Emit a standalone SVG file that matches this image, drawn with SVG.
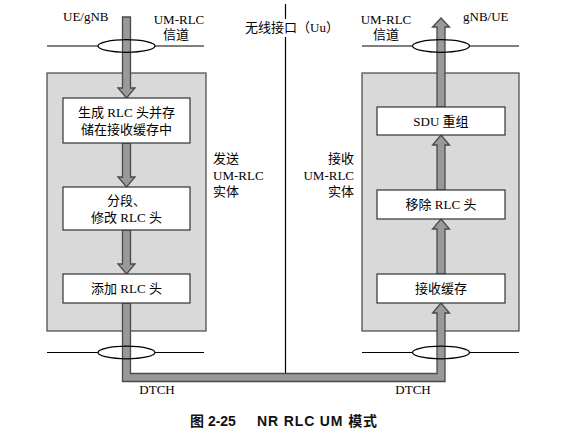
<svg xmlns="http://www.w3.org/2000/svg" width="564" height="439" viewBox="0 0 564 439">
<style>
.ent{fill:#d9d9d9;stroke:#444;stroke-width:1.2}
.box{fill:#fff;stroke:#333;stroke-width:1.2}
.pipe{fill:#999;stroke:#4a4a4a;stroke-width:1.3;stroke-linejoin:miter}
.ln{stroke:#000;stroke-width:1.2;fill:none}
.ell{fill:none;stroke:#000;stroke-width:1.2}
.t{font-family:"Liberation Serif","Noto Sans CJK SC",serif;font-size:13px;fill:#000}
.c{text-anchor:middle}
.cap{font-family:"Liberation Sans","Noto Sans CJK SC",sans-serif;font-size:14px;font-weight:bold;fill:#111}
</style>
<rect width="564" height="439" fill="#fff"/>

<g id="tx-entity">
<rect class="ent" x="47" y="73" width="159" height="258"/>
</g>
<g id="rx-entity">
<rect class="ent" x="362" y="73" width="157" height="258"/>
</g>

<g id="connectors">
<line class="ln" x1="285.5" y1="4" x2="285.5" y2="19"/>
<line class="ln" x1="285.5" y1="37" x2="285.5" y2="374"/>
<!-- left top pipe -->
<polygon class="pipe" points="122.5,17 130.5,17 130.5,88 135,88 126.5,98 118,88 122.5,88"/>
<polygon class="pipe" points="122.5,143 130.5,143 130.5,177 135,177 126.5,187 118,177 122.5,177"/>
<polygon class="pipe" points="122.5,230 130.5,230 130.5,264 135,264 126.5,274 118,264 122.5,264"/>
<!-- DTCH pipe -->
<polygon class="pipe" points="122.5,303 130.5,303 130.5,373.5 437,373.5 437,313 432.5,313 441,303 449.5,313 445,313 445,381.5 122.5,381.5"/>
<!-- right arrows -->
<polygon class="pipe" points="437,274 445,274 445,229 449.5,229 441,219 432.5,229 437,229"/>
<polygon class="pipe" points="437,190 445,190 445,145 449.5,145 441,135 432.5,145 437,145"/>
<polygon class="pipe" points="437,107 445,107 445,27 449.5,27 441,18 432.5,27 437,27"/>
<!-- channel lines -->
<line class="ln" x1="47" y1="46" x2="98" y2="46"/>
<line class="ln" x1="155" y1="46" x2="204" y2="46"/>
<ellipse class="ell" cx="126.5" cy="46" rx="28.5" ry="6.3"/>
<line class="ln" x1="362" y1="46" x2="412.5" y2="46"/>
<line class="ln" x1="469.5" y1="46" x2="519" y2="46"/>
<ellipse class="ell" cx="441" cy="46" rx="28.5" ry="6.3"/>
<line class="ln" x1="47" y1="352.5" x2="98" y2="352.5"/>
<line class="ln" x1="155" y1="352.5" x2="204" y2="352.5"/>
<ellipse class="ell" cx="126.5" cy="352.5" rx="28.5" ry="6.3"/>
<line class="ln" x1="362" y1="352.5" x2="412.5" y2="352.5"/>
<line class="ln" x1="469.5" y1="352.5" x2="519" y2="352.5"/>
<ellipse class="ell" cx="441" cy="352.5" rx="28.5" ry="6.3"/>
</g>

<g id="box-gen">
<rect class="box" x="63" y="98" width="127" height="45"/>
<text class="t c" x="126.5" y="117">生成 RLC 头并存</text>
<text class="t c" x="126.5" y="134">储在接收缓存中</text>
</g>
<g id="box-seg">
<rect class="box" x="63" y="187" width="127" height="43"/>
<text class="t c" x="126.5" y="205">分段、</text>
<text class="t c" x="126.5" y="222">修改 RLC 头</text>
</g>
<g id="box-add">
<rect class="box" x="63" y="274" width="127" height="29"/>
<text class="t c" x="126.5" y="293">添加 RLC 头</text>
</g>
<g id="box-sdu">
<rect class="box" x="377" y="107" width="128" height="28"/>
<text class="t c" x="441" y="126">SDU 重组</text>
</g>
<g id="box-rm">
<rect class="box" x="377" y="190" width="128" height="29"/>
<text class="t c" x="441" y="209">移除 RLC 头</text>
</g>
<g id="box-buf">
<rect class="box" x="377" y="274" width="128" height="29"/>
<text class="t c" x="441" y="293">接收缓存</text>
</g>

<g id="labels">
<text class="t" x="63" y="21">UE/gNB</text>
<text class="t c" x="179" y="24">UM-RLC</text>
<text class="t c" x="176" y="39">信道</text>
<text class="t c" x="292" y="32">无线接口（Uu）</text>
<text class="t c" x="386" y="24">UM-RLC</text>
<text class="t c" x="386" y="39">信道</text>
<text class="t" x="463" y="21">gNB/UE</text>
<text class="t" x="213" y="163">发送</text>
<text class="t" x="213" y="180">UM-RLC</text>
<text class="t" x="213" y="196">实体</text>
<text class="t" x="354" y="163" text-anchor="end">接收</text>
<text class="t" x="354" y="180" text-anchor="end">UM-RLC</text>
<text class="t" x="354" y="196" text-anchor="end">实体</text>
<text class="t c" x="157" y="394">DTCH</text>
<text class="t c" x="413" y="394">DTCH</text>
<text class="cap" x="190" y="426">图 2-25</text>
<text class="cap" x="257" y="426" textLength="120">NR RLC UM 模式</text>
</g>
</svg>
